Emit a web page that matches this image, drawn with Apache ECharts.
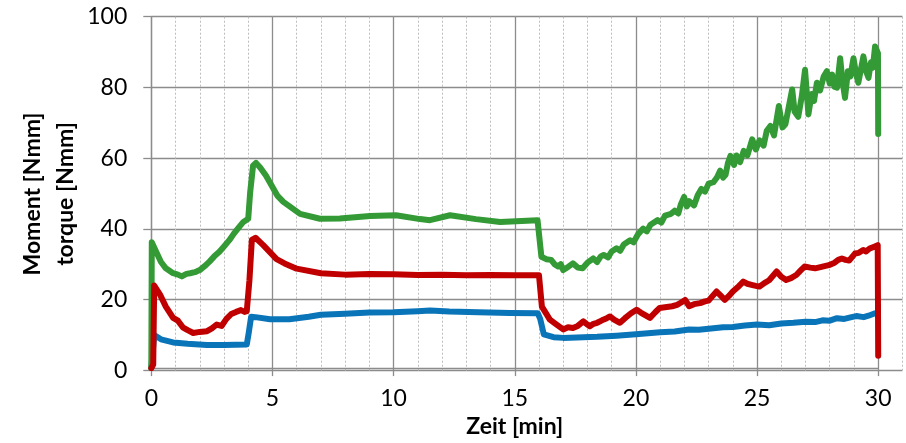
<!DOCTYPE html>
<html><head><meta charset="utf-8">
<script src="https://cdn.jsdelivr.net/npm/echarts@6/dist/echarts.min.js"></script>
<style>html,body{margin:0;padding:0;background:#fff}#c{width:906px;height:443px}</style>
</head><body><div id="c"></div>
<script>
// ---- data (time in min, torque in Nmm) ----
const xLabels = [0, 5, 10, 15, 20, 25, 30];
const yLabels = [0, 20, 40, 60, 80, 100];
const xTitle = 'Zeit [min]';
const yTitle = 'Moment [Nmm]\ntorque [Nmm]';

const blueTime = [0, 0.08, 0.12, 0.4, 0.9, 1.5, 2.3, 3.0, 3.94, 4.02, 4.12, 4.3, 4.9, 5.7, 6.5, 7.0, 8.0, 9.0, 10.0, 11.0, 11.5, 12.3, 13.5, 14.8, 15.95, 16.05, 16.2, 16.6, 17.0, 18.4, 19.2, 20.0, 20.5, 21.0, 21.6, 22.2, 22.6, 23.0, 23.6, 24.0, 24.5, 25.0, 25.5, 26.0, 26.5, 27.0, 27.4, 27.7, 28.0, 28.3, 28.6, 28.9, 29.1, 29.4, 29.6, 29.87];
const blueVal  = [0, 0, 9.4, 8.2, 7.3, 6.9, 6.6, 6.6, 6.7, 10.0, 14.6, 14.5, 13.9, 13.9, 14.6, 15.2, 15.5, 15.8, 15.9, 16.2, 16.4, 16.1, 15.9, 15.7, 15.6, 14.0, 9.6, 8.8, 8.6, 8.9, 9.2, 9.6, 9.9, 10.2, 10.4, 11.0, 10.9, 11.2, 11.6, 11.7, 12.1, 12.4, 12.2, 12.7, 12.9, 13.2, 13.1, 13.6, 13.5, 14.2, 14.0, 14.5, 14.8, 14.5, 14.9, 15.6];

const redTime = [0, 0.08, 0.12, 0.36, 0.6, 0.9, 1.1, 1.3, 1.5, 1.73, 2.0, 2.3, 2.5, 2.7, 2.9, 3.1, 3.3, 3.5, 3.7, 3.85, 3.94, 4.05, 4.15, 4.3, 4.62, 5.17, 5.5, 6.0, 7.0, 8.0, 9.0, 10.0, 11.0, 12.0, 13.0, 14.0, 15.0, 16.0, 16.12, 16.45, 16.7, 17.0, 17.2, 17.4, 17.6, 17.83, 18.0, 18.1, 18.25, 18.4, 18.6, 18.8, 18.93, 19.1, 19.34, 19.55, 19.8, 20.03, 20.2, 20.4, 20.58, 20.8, 20.98, 21.2, 21.5, 21.7, 21.85, 22.03, 22.2, 22.4, 22.65, 22.85, 23.0, 23.15, 23.33, 23.5, 23.67, 23.85, 24.0, 24.2, 24.43, 24.6, 24.77, 24.95, 25.1, 25.3, 25.5, 25.65, 25.81, 26.0, 26.2, 26.4, 26.62, 26.8, 26.96, 27.2, 27.4, 27.7, 27.96, 28.2, 28.35, 28.5, 28.65, 28.8, 29.04, 29.2, 29.38, 29.5, 29.66, 29.8, 29.98, 30.0];
const redVal  = [0, 1, 23.5, 20.9, 17.5, 14.3, 13.5, 11.6, 10.8, 10.0, 10.3, 10.5, 11.3, 12.4, 12.0, 14.0, 15.4, 16.0, 16.5, 16.0, 16.2, 25.0, 36.5, 37.1, 35.0, 31.0, 29.8, 28.3, 27.0, 26.6, 26.8, 26.7, 26.5, 26.6, 26.4, 26.5, 26.4, 26.4, 17.5, 13.8, 12.5, 11.0, 11.6, 11.4, 12.0, 13.3, 12.4, 11.9, 12.6, 12.9, 13.6, 14.2, 14.7, 13.8, 12.9, 14.2, 15.6, 16.6, 15.8, 15.0, 14.3, 15.9, 17.1, 17.3, 17.6, 18.0, 18.6, 19.4, 17.6, 18.2, 18.5, 19.0, 19.2, 20.4, 21.8, 20.6, 19.4, 20.6, 21.8, 23.0, 24.6, 24.0, 23.7, 23.4, 23.2, 24.2, 25.0, 26.2, 27.5, 26.0, 25.1, 25.6, 26.5, 27.8, 28.9, 28.6, 28.4, 28.9, 29.3, 30.0, 30.8, 31.2, 30.8, 30.6, 32.6, 32.8, 33.6, 33.2, 34.1, 34.4, 35.0, 3.5];

const greenTime = [0, 0.02, 0.2, 0.4, 0.6, 0.9, 1.1, 1.26, 1.45, 1.6, 1.8, 2.0, 2.2, 2.4, 2.6, 2.81, 3.0, 3.22, 3.4, 3.63, 3.8, 4.0, 4.08, 4.2, 4.32, 4.5, 4.73, 5.2, 5.45, 6.14, 6.96, 7.78, 9.03, 10.1, 11.09, 11.5, 12.33, 13.4, 14.4, 15.94, 16.1, 16.3, 16.5, 16.65, 16.8, 16.9, 17.0, 17.2, 17.4, 17.6, 17.8, 18.0, 18.24, 18.4, 18.55, 18.67, 18.85, 19.0, 19.2, 19.35, 19.5, 19.76, 19.9, 20.1, 20.3, 20.45, 20.6, 20.9, 21.05, 21.2, 21.45, 21.6, 21.75, 21.85, 21.99, 22.1, 22.2, 22.4, 22.55, 22.7, 22.85, 23.0, 23.2, 23.35, 23.48, 23.6, 23.7, 23.8, 23.9, 24.05, 24.15, 24.3, 24.45, 24.6, 24.8, 24.95, 25.1, 25.27, 25.4, 25.55, 25.7, 25.9, 26.05, 26.17, 26.3, 26.45, 26.55, 26.7, 26.85, 26.98, 27.12, 27.25, 27.35, 27.47, 27.6, 27.75, 27.88, 28.0, 28.1, 28.2, 28.3, 28.43, 28.52, 28.63, 28.75, 28.85, 28.98, 29.08, 29.18, 29.3, 29.39, 29.5, 29.6, 29.7, 29.78, 29.87, 29.99, 30.0];
const greenVal  = [0, 35.8, 33.1, 30.2, 28.4, 27.0, 26.6, 26.1, 26.8, 27.0, 27.3, 27.9, 29.0, 30.3, 31.8, 33.1, 34.6, 36.4, 38.2, 40.2, 41.6, 42.5, 50.0, 57.6, 58.4, 57.0, 54.8, 49.1, 47.3, 43.9, 42.5, 42.6, 43.3, 43.5, 42.4, 42.1, 43.5, 42.4, 41.6, 42.1, 31.7, 31.0, 30.8, 29.5, 28.9, 29.6, 27.9, 28.8, 29.8, 28.6, 28.4, 30.0, 31.2, 30.2, 31.8, 32.2, 31.5, 33.2, 34.1, 33.4, 35.2, 36.4, 35.8, 38.2, 39.7, 38.9, 40.8, 42.1, 41.4, 43.4, 43.9, 44.8, 44.0, 46.5, 48.7, 46.0, 47.5, 46.3, 49.2, 51.0, 50.2, 52.5, 52.9, 54.3, 56.2, 54.2, 55.0, 58.4, 60.4, 57.8, 60.5, 58.6, 61.8, 60.5, 65.1, 62.2, 64.8, 63.3, 67.5, 68.9, 66.2, 74.6, 68.5, 69.4, 74.0, 79.3, 73.0, 71.5, 77.5, 84.9, 72.2, 78.0, 76.0, 81.2, 79.0, 83.0, 84.5, 81.0, 83.5, 80.0, 79.8, 88.2, 82.0, 76.9, 84.5, 83.0, 88.2, 84.0, 81.2, 85.5, 88.7, 84.5, 82.6, 87.0, 85.5, 91.5, 89.6, 66.6];

const zip = (t, v) => t.map((x, i) => [x, v[i]]);

const GRID = '#8c8c8c';
const FONT = 'Lato';
const x0 = 151.3, xPerMin = 24.23;

const chart = echarts.init(document.getElementById('c'), null, {renderer: 'canvas'});
chart.setOption({
  animation: false,
  backgroundColor: '#fff',
  grid: [
    {left: x0, width: xPerMin * 31, top: 16.7, bottom: 72.5, containLabel: false},
    {left: x0, width: xPerMin * 30, top: 16.7, bottom: 72.5, containLabel: false}
  ],
  graphic: [
    {type: 'text', x: 49, y: 194, rotation: Math.PI / 2, z: 10,
     style: {text: yTitle, font: 'bold 23px Lato', fill: '#000',
             align: 'center', verticalAlign: 'middle', lineHeight: 33}}
  ],
  xAxis: [
    {gridIndex: 0, type: 'value', min: 0, max: 31, interval: 1,
     axisLine: {show: false}, axisTick: {show: false}, axisLabel: {show: false},
     splitLine: {show: true, lineStyle: {color: '#bdbdbd', width: 1, type: [2, 2]}}},
    {gridIndex: 1, type: 'value', min: 0, max: 30, interval: 5,
     name: xTitle, nameLocation: 'middle', nameGap: 45,
     nameTextStyle: {fontFamily: FONT, fontWeight: 'bold', fontSize: 23, color: '#000'},
     axisLine: {show: true, onZero: false, lineStyle: {color: GRID, width: 1.3}},
     axisTick: {show: true, length: 8, lineStyle: {color: GRID, width: 1.3}},
     axisLabel: {show: true, margin: 19, fontFamily: FONT, fontSize: 23, color: '#000',
                 formatter: v => xLabels.includes(v) ? String(v) : ''},
     splitLine: {show: true, lineStyle: {color: GRID, width: 1.3}}}
  ],
  yAxis: [
    {gridIndex: 0, type: 'value', min: 0, max: 100, interval: 20,
     axisLine: {show: true, onZero: false, lineStyle: {color: GRID, width: 1.3}},
     axisTick: {show: true, length: 8, lineStyle: {color: GRID, width: 1.3}},
     axisLabel: {show: true, margin: 24, fontFamily: FONT, fontSize: 23, color: '#000',
                 formatter: v => yLabels.includes(v) ? String(v) : ''},
     splitLine: {show: true, lineStyle: {color: GRID, width: 1.3}}},
    {gridIndex: 1, type: 'value', min: 0, max: 100, interval: 20, show: false,
     splitLine: {show: false}}
  ],
  series: [
    {name: 'blue', type: 'line', xAxisIndex: 1, yAxisIndex: 1, data: zip(blueTime, blueVal),
     showSymbol: false, symbol: 'none', lineStyle: {color: '#0a74b9', width: 6, cap: 'round', join: 'round'}},
    {name: 'green', type: 'line', xAxisIndex: 1, yAxisIndex: 1, data: zip(greenTime, greenVal),
     showSymbol: false, symbol: 'none', lineStyle: {color: '#339a35', width: 6, cap: 'round', join: 'round'}},
    {name: 'red', type: 'line', xAxisIndex: 1, yAxisIndex: 1, data: zip(redTime, redVal),
     showSymbol: false, symbol: 'none', lineStyle: {color: '#c00000', width: 6, cap: 'round', join: 'round'}}
  ]
});
</script></body></html>
